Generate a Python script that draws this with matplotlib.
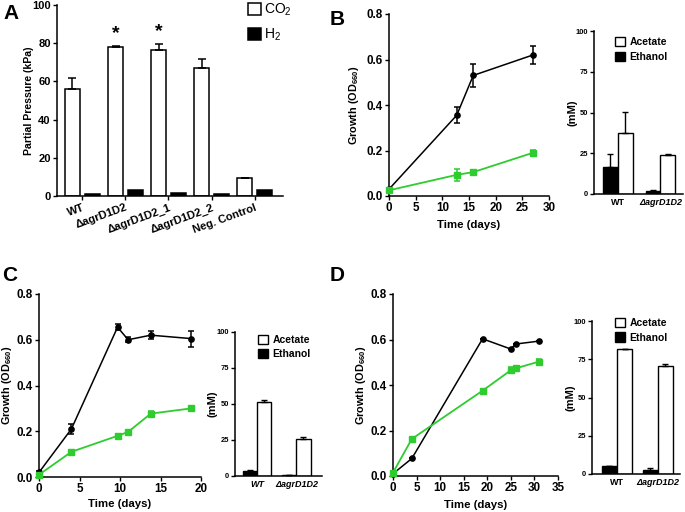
import numpy as np
import matplotlib
matplotlib.use('Agg')
import matplotlib.pyplot as plt

plt.rcParams['font.family'] = ['Liberation Sans', 'DejaVu Sans']
plt.rcParams['font.weight'] = 'bold'
plt.rcParams['mathtext.fontset'] = 'custom'
plt.rcParams['mathtext.bf'] = 'Liberation Sans:bold'
plt.rcParams['mathtext.rm'] = 'Liberation Sans'
plt.rcParams['mathtext.it'] = 'Liberation Sans:italic:bold'
plt.rcParams['mathtext.default'] = 'bf'

# ---- panel A data ----
a_labels = ['WT', '\u0394agrD1D2', '\u0394agrD1D2_1', '\u0394agrD1D2_2', 'Neg. Control']
a_co2 = [56, 78, 76.2, 67, 9.3]
a_co2_err = [6, 0.7, 3.2, 4.8, 0]
a_h2 = [1.3, 2.9, 1.6, 1.3, 3.2]

# ---- panel B data ----
b_t_wt = [0, 12.7, 15.8, 27]
b_wt = [0.03, 0.355, 0.53, 0.62]
b_wt_err = [0.005, 0.035, 0.05, 0.04]
b_t_mut = [0, 12.7, 15.8, 27]
b_mut = [0.025, 0.093, 0.105, 0.19]
b_mut_err = [0.003, 0.025, 0.01, 0.012]
b_eth = [16.4, 2.0]
b_eth_err = [8.1, 0.4]
b_ace = [37.2, 23.9]
b_ace_err = [12.9, 0.5]

# ---- panel C data ----
c_t = [0, 4, 9.7, 11, 13.8, 18.8]
c_wt = [0.02, 0.21, 0.655, 0.60, 0.62, 0.605]
c_wt_err = [0.005, 0.022, 0.012, 0.012, 0.017, 0.035]
c_mut = [0.01, 0.11, 0.18, 0.197, 0.277, 0.30]
c_mut_err = [0.003, 0.005, 0.008, 0.006, 0.012, 0.006]
c_eth = [3.5, 0.7]
c_eth_err = [0.4, 0.2]
c_ace = [51.3, 25.8]
c_ace_err = [1.4, 1.3]

# ---- panel D data ----
d_t = [0, 4, 19, 25, 26, 31]
d_wt = [0.01, 0.077, 0.603, 0.558, 0.58, 0.593]
d_mut = [0.015, 0.163, 0.375, 0.465, 0.473, 0.503]
d_mut_err = [0.005, 0.005, 0.005, 0.012, 0.006, 0.01]
d_eth = [5.0, 2.6]
d_eth_err = [0, 1.5]
d_ace = [81.8, 70.3]
d_ace_err = [0, 1.9]

bar_groups = ['WT', '\u0394agrD1D2']

W, H = 685, 512
fig = plt.figure(figsize=(W / 100, H / 100), dpi=100)


def px_axes(left, top, right, bottom):
    return fig.add_axes([left / W, 1 - bottom / H, (right - left) / W, (bottom - top) / H])


def style(ax, lsize):
    for s in ['top', 'right']:
        ax.spines[s].set_visible(False)
    for s in ['left', 'bottom']:
        ax.spines[s].set_linewidth(1.1)
    ax.tick_params(direction='out', length=3, width=1.0, labelsize=lsize, pad=1.5)
    for lab in ax.get_xticklabels() + ax.get_yticklabels():
        lab.set_fontweight('bold')


def ylabel_px(ax, text, size, right_px):
    # place the y label so its right edge sits right_px pixels left of the axis
    ax.set_ylabel(text, fontsize=size, fontweight='bold')
    bb = ax.get_position()
    ax.yaxis.set_label_coords(-right_px / (bb.width * W), 0.5)


green = '#2ecc2e'


def growth(ax, t1, y1, e1, t2, y2, e2, xmax, xstep, xpad, ypx):
    ax.errorbar(t1, y1, yerr=e1, color='black', marker='o', ms=3.8, lw=1.1,
                capsize=2.5, elinewidth=1.1, capthick=1.1, clip_on=False, zorder=3)
    ax.errorbar(t2, y2, yerr=e2, color=green, marker='s', ms=5, lw=1.3,
                capsize=2.5, elinewidth=1.1, capthick=1.1, clip_on=False, zorder=4)
    ax.set_xlim(0, xmax)
    ax.set_ylim(0, 0.8)
    ax.set_xticks(np.arange(0, xmax + 1, xstep))
    ax.set_yticks([0, 0.2, 0.4, 0.6, 0.8])
    ax.set_yticklabels(['0.0', '0.2', '0.4', '0.6', '0.8'])
    ax.set_xlabel('Time (days)', fontsize=8.2, fontweight='bold', labelpad=xpad)
    ylabel_px(ax, 'Growth (OD$_{660}$)', 7.8, ypx)
    style(ax, 8.4)


def products(ax, eth, eth_err, ace, ace_err, w, xl, italic_wt, ypx, leg_xy, leg_sp):
    x = np.arange(2)
    ax.bar(x - w / 2, eth, w, color='black', edgecolor='black', lw=1.0,
           yerr=[np.zeros(2), eth_err], error_kw=dict(capsize=2.5, elinewidth=1.0, capthick=1.0),
           label='Ethanol', zorder=2)
    ax.bar(x + w / 2, ace, w, color='white', edgecolor='black', lw=1.0,
           yerr=[np.zeros(2), ace_err], error_kw=dict(capsize=2.5, elinewidth=1.0, capthick=1.0),
           label='Acetate', zorder=2)
    ax.set_xlim(*xl)
    ax.set_ylim(0, 100)
    ax.set_yticks([0, 25, 50, 75, 100])
    ax.set_xticks(x)
    ax.set_xticklabels(bar_groups)
    ylabel_px(ax, '(mM)', 8.0, ypx)
    style(ax, 5.4)
    ax.tick_params(axis='x', length=0, pad=3, labelsize=6.5)
    labs = ax.get_xticklabels()
    labs[1].set_fontstyle('italic')
    if italic_wt:
        labs[0].set_fontstyle('italic')
    h, l = ax.get_legend_handles_labels()
    ax.legend(h[::-1], l[::-1], loc='upper left',
              bbox_to_anchor=(leg_xy[0] / W, 1 - leg_xy[1] / H), bbox_transform=fig.transFigure,
              frameon=False, borderpad=0, borderaxespad=0, handlelength=1.0, handleheight=1.0,
              handletextpad=0.4, labelspacing=leg_sp, prop=dict(weight='bold', size=7.5))


# ---- panel A ----
axA = px_axes(57, 5, 283, 196)
xa = np.arange(len(a_labels))
wa = 0.35
axA.bar(xa - 0.23, a_co2, wa, color='white', edgecolor='black', lw=1.1,
        yerr=[np.zeros(len(xa)), a_co2_err],
        error_kw=dict(capsize=3, elinewidth=1.1, capthick=1.1), label='CO$_\\mathregular{2}$')
axA.bar(xa + 0.23, a_h2, wa, color='black', edgecolor='black', lw=1.1, label='H$_\\mathregular{2}$')
axA.set_xlim(-0.59, 4.66)
axA.set_ylim(0, 100)
axA.set_yticks([0, 20, 40, 60, 80, 100])
axA.set_xticks(xa)
axA.set_xticklabels(a_labels, rotation=20, ha='right', rotation_mode='anchor')
ylabel_px(axA, 'Partial Pressure (kPa)', 7.6, 23)
style(axA, 8)
for i in [1, 2]:
    axA.text(xa[i] - 0.23, a_co2[i] + a_co2_err[i] + 2, '*', ha='center', va='bottom',
             fontsize=14, fontweight='bold')
axA.legend(loc='upper left', bbox_to_anchor=(248 / W, 1 - 2 / H), bbox_transform=fig.transFigure,
           frameon=False, borderpad=0, borderaxespad=0,
           handlelength=0.95, handleheight=0.95, handletextpad=0.2, labelspacing=0.6,
           prop=dict(weight='normal', size=10))

# ---- panel B ----
axB = px_axes(389, 14, 549, 196)
growth(axB, b_t_wt, b_wt, b_wt_err, b_t_mut, b_mut, b_mut_err, 30, 5, 4, 28)
axB2 = px_axes(594, 31, 683, 194)
products(axB2, b_eth, b_eth_err, b_ace, b_ace_err, 0.35, (-0.56, 1.53), False, 16,
         (615, 37), 0.45)

# ---- panel C ----
axC = px_axes(39, 294, 201, 477)
growth(axC, c_t, c_wt, c_wt_err, c_t, c_mut, c_mut_err, 20, 5, 3, 25)
axC2 = px_axes(235, 332, 322, 476)
products(axC2, c_eth, c_eth_err, c_ace, c_ace_err, 0.36, (-0.56, 1.65), True, 18,
         (258, 335), 0.35)

# ---- panel D ----
axD = px_axes(393, 294, 558, 476)
growth(axD, d_t, d_wt, np.zeros(len(d_t)), d_t, d_mut, d_mut_err, 35, 5, 4, 25)
axD2 = px_axes(592, 321, 680, 474)
products(axD2, d_eth, d_eth_err, d_ace, d_ace_err, 0.37, (-0.61, 1.54), False, 16,
         (615, 318), 0.4)

# panel letters
for letter, (x, y) in zip('ABCD', [(3, 4), (330, 10), (2, 266), (330, 266)]):
    fig.text(x / W, 1 - y / H, letter, fontsize=15, fontweight='bold', va='top', ha='left')

fig.savefig('out.png', dpi=100)
